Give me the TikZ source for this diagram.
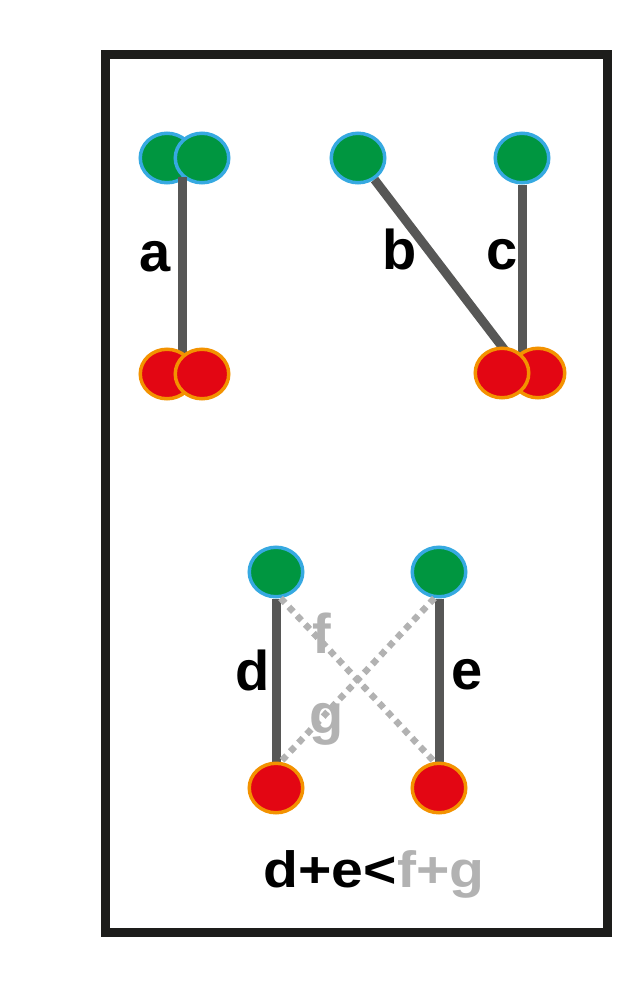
\documentclass[tikz,border=0pt]{standalone}
\usepackage{fontspec}
\setmainfont{Liberation Sans}
\usetikzlibrary{shapes.geometric}

\definecolor{dotgreen}{RGB}{0,150,64}
\definecolor{dotblue}{RGB}{54,169,225}
\definecolor{dotred}{RGB}{227,6,19}
\definecolor{dotorange}{RGB}{243,146,0}
\definecolor{linkgray}{RGB}{87,87,86}
\definecolor{crossgray}{RGB}{178,178,178}
\definecolor{framegray}{RGB}{29,29,27}

\pgfdeclarelayer{under}
\pgfdeclarelayer{lines}
\pgfsetlayers{under,lines,main}

\tikzset{
  greendot/.style={ellipse, inner sep=0pt, minimum width=53.5pt, minimum height=49.5pt,
    fill=dotgreen, draw=dotblue, line width=3.5pt},
  reddot/.style={ellipse, inner sep=0pt, minimum width=53.5pt, minimum height=49.5pt,
    fill=dotred, draw=dotorange, line width=3.5pt},
  link/.style={draw=linkgray, line width=9pt},
  crossing/.style={draw=crossgray, line width=6.5pt, dash pattern=on 6.5pt off 5.5pt},
  lbl/.style={font=\fontsize{56}{60}\selectfont\bfseries, anchor=base, inner sep=0pt},
  sumlbl/.style={font=\fontsize{51}{56}\selectfont\bfseries, anchor=base, inner sep=0pt},
}

\begin{document}
\begin{tikzpicture}[x=1pt,y=-1pt]
\useasboundingbox (0,0) rectangle (628,990);
\draw[framegray, line width=9pt] (105,55) rectangle (607,932); % frame

\begin{pgfonlayer}{under}
\node[greendot] (ga1) at (167,158) {}; % pair a
\node[greendot] (ga2) at (202,158) {};
\node[greendot] (gb) at (358,158) {}; % b
\node[greendot] (gc) at (522,158) {}; % c
\node[greendot] (gd1) at (276,572) {}; % d
\node[greendot] (gd2) at (439,572) {}; % e
\end{pgfonlayer}

\node[reddot] (ra1) at (167,374) {};
\node[reddot] (ra2) at (202,374) {};
\node[reddot] (rc2) at (538,373) {};
\node[reddot] (rc1) at (502,373) {};
\node[reddot] (rd1) at (276,788) {};
\node[reddot] (rd2) at (439,788) {};

\begin{pgfonlayer}{lines}
\draw[link] (ga2.224) -- (ga2.224 |- ra2) ; % a
\draw[link, shorten >=-6pt] (gb) -- (rc1.north) ; % b
\draw[link] (gc.south) -- (gc.south |- rc1) ; % c
\draw[link] (gd1.south) -- (rd1) ; % d
\draw[link] (gd2.south) -- (rd2) ; % e
\draw[crossing] (gd1.-80) -- (rd2.100) ; % f
\draw[crossing] (gd2.-100) -- (rd1.80) ; % g
\end{pgfonlayer}

\node[lbl] (la) at (155,271) {a};
\node[lbl] (lb) at (400,269) {b};
\node[lbl] (lc) at (502,269) {c};
\node[lbl] (ld) at (253,690) {d};
\node[lbl] (le) at (467,689) {e};
\node[lbl, crossgray] (lf) at (322,653) {f};
\node[lbl, crossgray] (lg) at (327,733) {g};

\node[sumlbl] (sum) at (374,887) {\scalebox{1.12}[1]{d+e<\textcolor{crossgray}{f+g}}};
\end{tikzpicture}
\end{document}
